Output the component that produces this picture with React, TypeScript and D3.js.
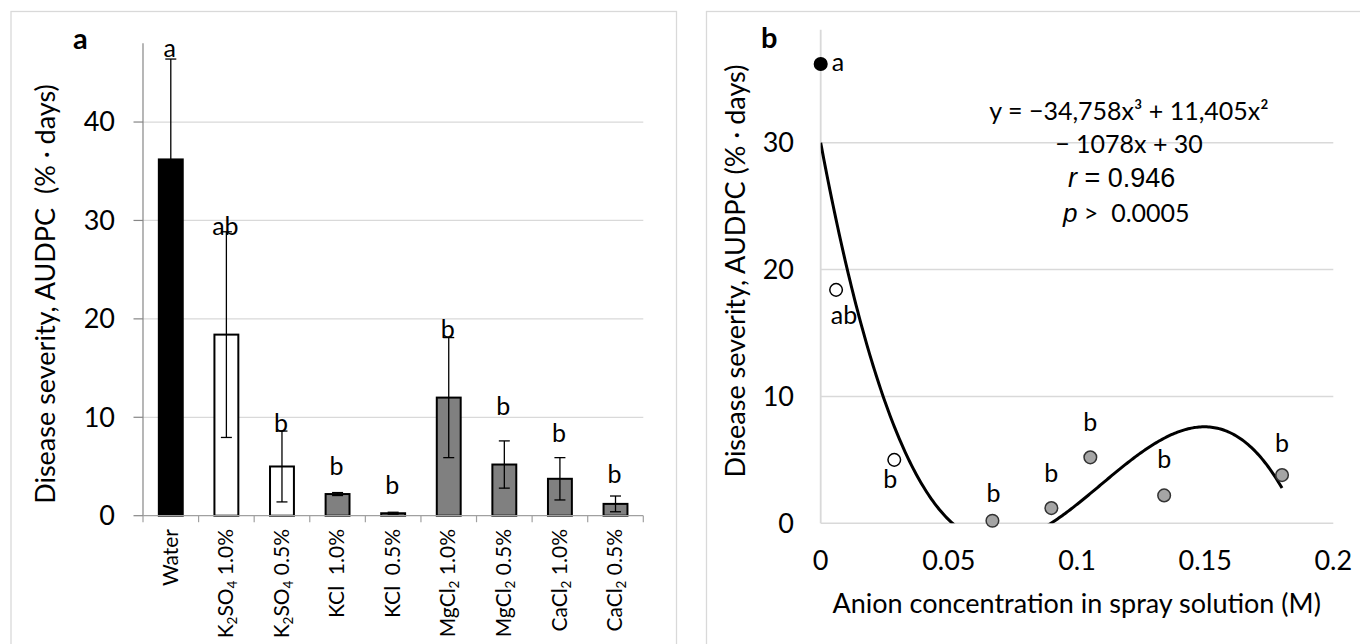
import React from "react";
import * as d3 from "d3";

// ---------- Panel a data ----------
const categories = ["Water", "K_2SO_4 1.0%", "K_2SO_4 0.5%", "KCl  1.0%", "KCl  0.5%", "MgCl_2 1.0%", "MgCl_2 0.5%", "CaCl_2 1.0%", "CaCl_2 0.5%"];
const barMeans = [36.2, 18.4, 5.0, 2.2, 0.25, 12.0, 5.2, 3.75, 1.2];
const barErrors = [10.2, 10.45, 3.6, 0.15, 0.1, 6.1, 2.4, 2.15, 0.8];
const barGroups = ["water", "sulfate", "sulfate", "chloride", "chloride", "chloride", "chloride", "chloride", "chloride"];
const barLetters = ["a", "ab", "b", "b", "b", "b", "b", "b", "b"];
const barLetterValues = [46.6, 28.5, 8.5, 4.1, 2.2, 18.1, 10.2, 7.5, 3.3];
const yTicksA = [0, 10, 20, 30, 40];

// ---------- Panel b data ----------
const concX = [0, 0.006, 0.0287, 0.067, 0.09, 0.1052, 0.134, 0.18];
const concY = [36.2, 18.4, 5.0, 0.2, 1.2, 5.2, 2.2, 3.8];
const pointGroups = ["water", "sulfate", "sulfate", "chloride", "chloride", "chloride", "chloride", "chloride"];
const pointLetters = ["a", "ab", "b", "b", "b", "b", "b", "b"];
const trendCoeffs = [-34758, 11405, -1078, 30]; // x^3, x^2, x, const
const yTicksB = [0, 10, 20, 30];
const xTicksB = [0, 0.05, 0.1, 0.15, 0.2];

// label placement (style)
const pointLabelOffsets: [number, number, string][] = [
  [11, 7, "start"], [8, 34.5, "middle"], [-4, 28.5, "middle"], [1, -19, "middle"],
  [0, -26, "middle"], [0, -26.6, "middle"], [0, -27, "middle"], [0, -23.5, "middle"],
];

const FONT = "Lato, 'Open Sans', sans-serif";
const ARIAL = "'Liberation Sans', Arial, sans-serif";
const GRID = "#d9d9d9";
const TICK_FS = 27;
const TITLE_FS = 27;
const LETTER_FS = 25;
const CAT_FS = 21;

const barFill: Record<string, string> = { water: "#000000", sulfate: "#ffffff", chloride: "#808080" };
const pointFill: Record<string, string> = { water: "#000000", sulfate: "#ffffff", chloride: "#a5a5a5" };

function SubLabel({ s }: { s: string }) {
  const parts: React.ReactNode[] = [];
  const re = /_(\d)/g;
  let last = 0;
  let m: RegExpExecArray | null;
  let k = 0;
  while ((m = re.exec(s)) !== null) {
    if (m.index > last) parts.push(<tspan key={k++}>{s.slice(last, m.index)}</tspan>);
    parts.push(<tspan key={k++} baselineShift="-0.3em" fontSize="13.5">{m[1]}</tspan>);
    last = m.index + m[0].length;
  }
  if (last < s.length) parts.push(<tspan key={k++}>{s.slice(last)}</tspan>);
  return <>{parts}</>;
}

export default function App() {
  // Panel a scales
  const xA = d3.scaleBand<string>().domain(categories).range([143, 643.3]).paddingInner(0).paddingOuter(0);
  const yA = d3.scaleLinear().domain([0, 48]).range([515.7, 43.3]);
  const bw = xA.bandwidth() * 0.43;

  // Panel b scales
  const xB = d3.scaleLinear().domain([0, 0.2]).range([820.7, 1333.3]);
  const yB = d3.scaleLinear().domain([0, 38.9]).range([523.3, 29.8]);

  const poly = (x: number) => trendCoeffs[0] * x ** 3 + trendCoeffs[1] * x ** 2 + trendCoeffs[2] * x + trendCoeffs[3];
  const xMax = d3.max(concX) as number;
  const samples = d3.range(0, 301).map((i) => (xMax * i) / 300);
  const line = d3.line<number>().x((x) => xB(x)).y((x) => yB(poly(x))).curve(d3.curveLinear);

  const bandTicks = categories.map((c) => xA(c) as number).concat([643.3]);

  return (
    <svg width={1360} height={644} style={{ position: "absolute", left: 0, top: 0, background: "#fff" }} fontFamily={FONT}>
      <defs>
        <clipPath id="plotB">
          <rect x={xB(0)} y={yB(38.9)} width={xB(0.2) - xB(0)} height={yB(0) - yB(38.9)} />
        </clipPath>
      </defs>
      <rect x={0} y={0} width={1360} height={644} fill="#fff" />

      {/* Frames */}
      <rect x={11} y={11.5} width={665.5} height={700} fill="none" stroke={GRID} strokeWidth={1.3} />
      <rect x={706.5} y={11.5} width={700} height={700} fill="none" stroke={GRID} strokeWidth={1.3} />

      {/* ---------------- Panel a ---------------- */}
      <g>
        {yTicksA.filter((t) => t > 0).map((t) => (
          <line key={t} x1={143} x2={643.3} y1={yA(t)} y2={yA(t)} stroke={GRID} strokeWidth={1.3} />
        ))}
        <line x1={143} x2={143} y1={yA(48)} y2={yA(0)} stroke="#868686" strokeWidth={1.2} />
        {yTicksA.map((t) => (
          <g key={t}>
            <line x1={133.5} x2={143} y1={yA(t)} y2={yA(t)} stroke="#868686" strokeWidth={1.2} />
            <text x={115} y={yA(t)} dy="0.35em" textAnchor="end" fontSize={TICK_FS} fill="#000">{t}</text>
          </g>
        ))}
        {bandTicks.map((x, i) => (
          <line key={i} x1={x} x2={x} y1={yA(0)} y2={yA(0) + 6.5} stroke="#a0a0a0" strokeWidth={1.2} />
        ))}

        {categories.map((c, i) => {
          const cx = (xA(c) as number) + xA.bandwidth() / 2;
          return (
            <g key={c}>
              <rect x={cx - bw / 2} y={yA(barMeans[i])} width={bw} height={yA(0) - yA(barMeans[i])}
                fill={barFill[barGroups[i]]} stroke="#000" strokeWidth={2} />
              <line x1={cx} x2={cx} y1={yA(barMeans[i] + barErrors[i])} y2={yA(Math.max(0, barMeans[i] - barErrors[i]))} stroke="#000" strokeWidth={1.3} />
              <line x1={cx - 5.5} x2={cx + 5.5} y1={yA(barMeans[i] + barErrors[i])} y2={yA(barMeans[i] + barErrors[i])} stroke="#000" strokeWidth={1.3} />
              <line x1={cx - 5.5} x2={cx + 5.5} y1={yA(barMeans[i] - barErrors[i])} y2={yA(barMeans[i] - barErrors[i])} stroke="#000" strokeWidth={1.3} />
              <text x={cx - 1} y={yA(barLetterValues[i])} textAnchor="middle" fontSize={LETTER_FS}>{barLetters[i]}</text>
              <text transform={`translate(${cx},529) rotate(-90)`} dy="0.32em" textAnchor="end" fontSize={CAT_FS} style={{ whiteSpace: "pre" }}>
                <SubLabel s={c} />
              </text>
            </g>
          );
        })}
        <line x1={143} x2={643.3} y1={yA(0)} y2={yA(0)} stroke="#a0a0a0" strokeWidth={1.3} />

        <text transform="translate(55,294) rotate(-90)" textAnchor="middle" fontSize={TITLE_FS} style={{ whiteSpace: "pre" }}>Disease severity, AUDPC  (% · days)</text>
        <text x={73} y={49} fontSize={29} fontWeight="bold">a</text>
      </g>

      {/* ---------------- Panel b ---------------- */}
      <g>
        {yTicksB.map((t) => (
          <line key={t} x1={xB(0)} x2={xB(0.2)} y1={yB(t)} y2={yB(t)} stroke={GRID} strokeWidth={1.5} />
        ))}
        <line x1={xB(0)} x2={xB(0)} y1={yB(38.9)} y2={yB(0)} stroke={GRID} strokeWidth={1.8} />
        {yTicksB.map((t) => (
          <text key={t} x={794} y={yB(t)} dy="0.35em" textAnchor="end" fontSize={TICK_FS}>{t}</text>
        ))}
        {xTicksB.map((t) => (
          <text key={t} x={xB(t)} y={570} textAnchor="middle" fontSize={TICK_FS}>{t}</text>
        ))}

        <path d={line(samples) || ""} fill="none" stroke="#000" strokeWidth={3} clipPath="url(#plotB)" />

        {concX.map((x, i) => (
          <g key={i}>
            <circle cx={xB(x)} cy={yB(concY[i])} r={6.3} fill={pointFill[pointGroups[i]]}
              stroke={pointGroups[i] === "chloride" ? "#333" : "#000"} strokeWidth={1.5} />
            <text x={xB(x) + pointLabelOffsets[i][0]} y={yB(concY[i]) + pointLabelOffsets[i][1]}
              textAnchor={pointLabelOffsets[i][2]} fontSize={LETTER_FS}>{pointLetters[i]}</text>
          </g>
        ))}

        <text x={1129} y={120} textAnchor="middle" fontSize={25}>y = −34,758x³ + 11,405x²</text>
        <text x={1129} y={153.3} textAnchor="middle" fontSize={25}>− 1078x + 30</text>
        <text x={1068} y={186.7} fontSize={27} fontFamily={ARIAL}>
          <tspan fontStyle="italic">r</tspan><tspan> = 0.946</tspan>
        </text>
        <text x={1063} y={221.7} fontSize={25} style={{ whiteSpace: "pre" }}>
          <tspan fontStyle="italic" fontFamily={ARIAL} fontSize={26}>p</tspan><tspan>{" >  0.0005"}</tspan>
        </text>

        <text transform="translate(745,271) rotate(-90)" textAnchor="middle" fontSize={TITLE_FS}>Disease severity, AUDPC (% · days)</text>
        <text x={1076.7} y={613} textAnchor="middle" fontSize={TITLE_FS}>Anion concentration in spray solution (M)</text>
        <text x={761} y={48} fontSize={29} fontWeight="bold">b</text>
      </g>
    </svg>
  );
}
